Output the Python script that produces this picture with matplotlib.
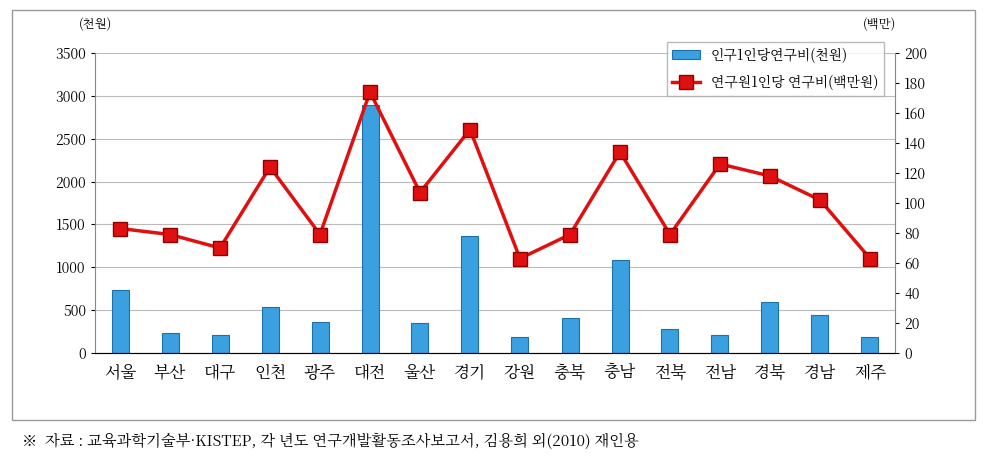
import matplotlib
matplotlib.use("Agg")
import matplotlib.pyplot as plt
from matplotlib import font_manager as fm
from matplotlib.patches import Rectangle

fam = 'DejaVu Sans'
for f in fm.fontManager.ttflist:
    if 'CJK' in f.name and ('KR' in f.name or 'Korean' in f.name):
        fam = f.name; break
else:
    for f in fm.fontManager.ttflist:
        if 'CJK' in f.name:
            fam = f.name; break
plt.rcParams['font.family'] = [fam, 'DejaVu Sans']

regions = ["서울","부산","대구","인천","광주","대전","울산","경기","강원","충북","충남","전북","전남","경북","경남","제주"]
per_capita = [730,230,210,540,360,2890,350,1360,190,410,1080,280,210,600,440,190]
per_researcher = [83,79,70,124,79,174,107,149,63,79,134,79,126,118,102,63]
left_ticks = [0,500,1000,1500,2000,2500,3000,3500]
right_ticks = list(range(0,201,20))

fig = plt.figure(figsize=(9.87,4.69), dpi=100)
fig.patches.append(Rectangle((12/987, 1-420/469), 963/987, 410/469, transform=fig.transFigure,
                             fill=False, edgecolor='#999999', lw=1))
ax = fig.add_axes([95/987, 1-353/469, 800/987, 300/469])
x = range(len(regions))
ax.bar(x, per_capita, width=0.34, color='#3aa0e0', edgecolor='#1f6fa8', lw=0.8, zorder=3,
       label='인구1인당연구비(천원)')
ax.set_ylim(0,3500); ax.set_yticks(left_ticks)
ax.set_xlim(-0.5, len(regions)-0.5)
ax.set_xticks(list(x)); ax.set_xticklabels(regions, fontsize=12)
ax.grid(axis='y', color='#bbbbbb', lw=0.8, zorder=0)
ax.tick_params(axis='y', labelsize=10, length=3)
ax.tick_params(axis='x', length=0, pad=8)
for s in ['top','right']:
    ax.spines[s].set_visible(False)
ax.spines['left'].set_color('#888888'); ax.spines['bottom'].set_color('#888888')
ax2 = ax.twinx()
ax2.plot(list(x), per_researcher, color='#e01010', lw=2.5, marker='s', ms=10,
         markerfacecolor='#e01010', markeredgecolor='#900000', zorder=4, label='연구원1인당 연구비(백만원)')
ax2.set_ylim(0,200); ax2.set_yticks(right_ticks)
ax2.tick_params(axis='y', labelsize=10, length=3)
for s in ['top','left']:
    ax2.spines[s].set_visible(False)
ax2.spines['right'].set_color('#888888')
fig.text(95/987, 1-28/469, '(천원)', fontsize=9, ha='center')
fig.text(880/987, 1-28/469, '(백만)', fontsize=9, ha='center')
h1,l1 = ax.get_legend_handles_labels(); h2,l2 = ax2.get_legend_handles_labels()
ax2.legend(h1+h2, l1+l2, loc='upper right', bbox_to_anchor=(0.995,1.06), fontsize=10,
           frameon=True, edgecolor='#aaaaaa', fancybox=False, labelspacing=0.8)
fig.text(22/987, 1-442/469, '※  자료 : 교육과학기술부·KISTEP, 각 년도 연구개발활동조사보고서, 김용희 외(2010) 재인용',
         fontsize=11, va='center')
fig.savefig('out.png', dpi=100)
